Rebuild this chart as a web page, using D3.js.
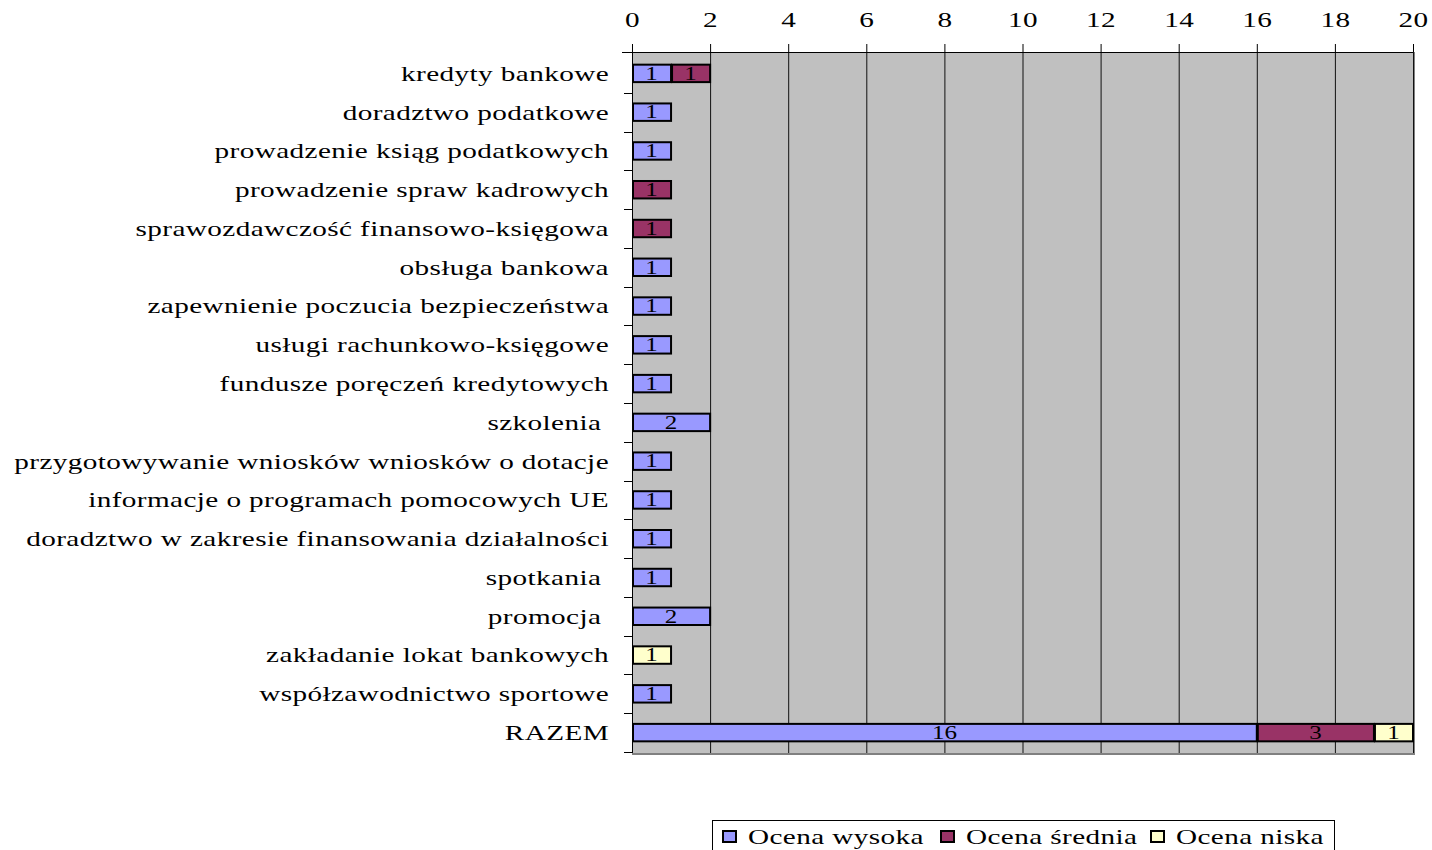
<!DOCTYPE html>
<html><head><meta charset="utf-8">
<script src="https://cdn.jsdelivr.net/npm/d3@7"></script>
<style>
body{margin:0;background:#fff;}
svg text{font-family:"Liberation Serif","Times New Roman",serif;fill:#000;}
</style></head>
<body>
<svg id="chart" width="1432" height="850"></svg>
<script>
const categories = ["kredyty bankowe","doradztwo podatkowe","prowadzenie ksiąg podatkowych","prowadzenie spraw kadrowych","sprawozdawczość finansowo-księgowa","obsługa bankowa","zapewnienie poczucia bezpieczeństwa","usługi rachunkowo-księgowe","fundusze poręczeń kredytowych","szkolenia ","przygotowywanie wniosków wniosków o dotacje","informacje o programach pomocowych UE","doradztwo w zakresie finansowania działalności","spotkania ","promocja ","zakładanie lokat bankowych","współzawodnictwo sportowe","RAZEM"];
const high = [1,1,1,0,0,1,1,1,1,2,1,1,1,1,2,0,1,16];
const mid  = [1,0,0,1,1,0,0,0,0,0,0,0,0,0,0,0,0,3];
const low  = [0,0,0,0,0,0,0,0,0,0,0,0,0,0,0,1,0,1];
const seriesNames = ["Ocena wysoka","Ocena średnia","Ocena niska"];
const seriesColors = ["#9999FF","#993366","#FFFFCC"];
const xTicks = [0,2,4,6,8,10,12,14,16,18,20];

const svg = d3.select("#chart");
const pL = 632, pR = 1413, pT = 52, pB = 753;
const cT = 54, cB = 752;
const SX = 1.39;
const x = d3.scaleLinear().domain([0,20]).range([pL,pR]);
const y = d3.scaleBand().domain(categories).range([cT,cB]).paddingInner(0.55).paddingOuter(0.275);
const yb = d3.scaleBand().domain(categories).range([cT,cB]);

const FS = "21px", LS = "0.3px";

svg.append("rect").attr("x",pL).attr("y",pT).attr("width",pR-pL).attr("height",pB-pT).attr("fill","#C0C0C0");
svg.append("line").attr("x1",pR+1).attr("x2",pR+1).attr("y1",pT).attr("y2",pB+1).attr("stroke","#808080").attr("stroke-width",2);
svg.append("line").attr("x1",pL).attr("x2",pR+2).attr("y1",pB+1).attr("y2",pB+1).attr("stroke","#808080").attr("stroke-width",2);

svg.append("g").selectAll("line").data(xTicks.slice(1)).join("line")
  .attr("x1",d=>x(d)+0.5).attr("x2",d=>x(d)+0.5).attr("y1",pT).attr("y2",pB)
  .attr("stroke","#111").attr("stroke-width",1);

const xAxis = d3.axisTop(x).tickValues(xTicks).tickSize(8).tickPadding(17).tickFormat(d3.format("d"));
const gx = svg.append("g").attr("transform",`translate(0,${pT})`).call(xAxis);
gx.attr("font-family",null).attr("font-size",null);
gx.select(".domain").attr("d",`M${pL-10},0.5H${pR}`).attr("stroke","#000");
gx.selectAll(".tick line").attr("stroke","#000");
gx.selectAll(".tick text").style("font-size",FS).style("letter-spacing",LS).attr("transform",`scale(${SX},1)`);

const boundaries = categories.map(c=>yb(c)).concat([cB]);
svg.append("line").attr("x1",pL+0.5).attr("x2",pL+0.5).attr("y1",pT).attr("y2",pB).attr("stroke","#000");
svg.append("g").selectAll("line").data(boundaries.slice(1)).join("line")
  .attr("x1",pL-8).attr("x2",pL).attr("y1",d=>Math.round(d)+0.5).attr("y2",d=>Math.round(d)+0.5).attr("stroke","#000");

svg.append("g").attr("transform",`translate(${pL-23},0) scale(${SX},1)`)
  .selectAll("text").data(categories).join("text")
  .attr("x",0).attr("y",d=>yb(d)+yb.bandwidth()/2).attr("dy","0.35em")
  .attr("text-anchor","end").style("font-size",FS).style("letter-spacing",LS).style("white-space","pre")
  .text(d=>d);

const rows = categories.map((c,i)=>({cat:c,v:[high[i],mid[i],low[i]]}));
const segs = [];
rows.forEach(r=>{let acc=0; r.v.forEach((v,k)=>{ if(v>0){segs.push({cat:r.cat,k,x0:acc,x1:acc+v,v});} acc+=v;});});
const g = svg.append("g");
g.selectAll("rect").data(segs).join("rect")
  .attr("x",d=>x(d.x0)+1).attr("width",d=>x(d.x1)-x(d.x0)-1)
  .attr("y",d=>y(d.cat)).attr("height",y.bandwidth())
  .attr("fill",d=>seriesColors[d.k]).attr("stroke","#000").attr("stroke-width",2);
g.selectAll("text").data(segs).join("text")
  .attr("transform",d=>`translate(${(x(d.x0)+x(d.x1))/2},${y(d.cat)+y.bandwidth()/2}) scale(${SX},1)`)
  .attr("dy","0.35em")
  .attr("text-anchor","middle").style("font-size","18px").text(d=>d.v);

const lg = svg.append("g").attr("transform","translate(712,820)");
lg.append("rect").attr("x",0.5).attr("y",0.5).attr("width",622).attr("height",40).attr("fill","#fff").attr("stroke","#000");
const itemX = [10,228,438];
seriesNames.forEach((n,i)=>{
  lg.append("rect").attr("x",itemX[i]+1).attr("y",11).attr("width",13).attr("height",11)
    .attr("fill",seriesColors[i]).attr("stroke","#000").attr("stroke-width",2);
  lg.append("text").attr("transform",`translate(${itemX[i]+26},17) scale(${SX},1)`).attr("dy","0.35em")
    .style("font-size",FS).style("letter-spacing",LS).text(n);
});
</script>
</body></html>
